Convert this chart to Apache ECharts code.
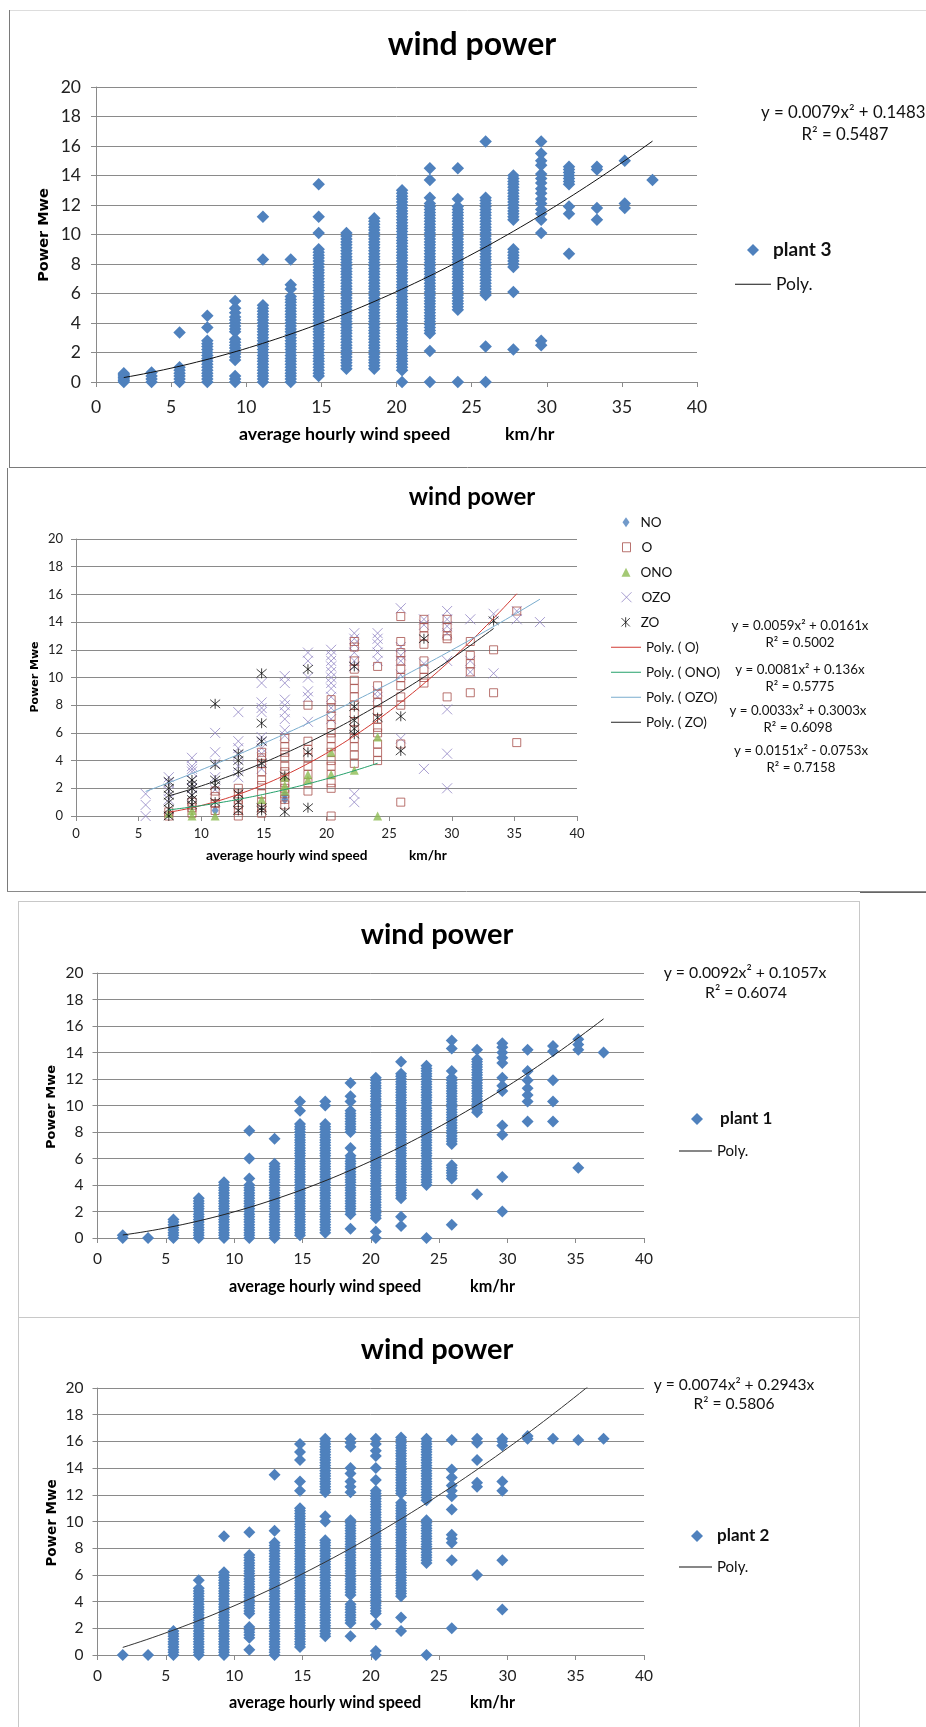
<!DOCTYPE html>
<html>
<head>
<meta charset="utf-8">
<script src="https://cdn.jsdelivr.net/npm/echarts@6/dist/echarts.min.js"></script>
<style>
  html, body { margin: 0; padding: 0; background: #ffffff; }
  #chart { width: 926px; height: 1727px; }
</style>
</head>
<body>
<div id="chart"></div>
<script>
// Wind speed classes (km/h), one column of readings per class
const speeds = [1.85, 3.70, 5.56, 7.41, 9.26, 11.11, 12.96, 14.82, 16.67, 18.52,
                20.37, 22.22, 24.08, 25.93, 27.78, 29.63, 31.48, 33.34, 35.19, 37.04];

// Axis ranges: [min, max, step]
const xRange = [0, 40, 5];
const yRange = [0, 20, 2];

// Plant 3: hourly power readings (MWe) per speed column
const plant3 = [
  [0, 0.1, 0.2, 0.3, 0.4, 0.5, 0.6],
  [0, 0.2, 0.4, 0.65],
  [0, 0.2, 0.4, 0.6, 0.8, 1, 3.35],
  [0, 0.2, 0.4, 0.6, 0.8, 1, 1.2, 1.4, 1.6, 1.8, 2, 2.2, 2.4, 2.6, 2.8, 3.7, 4.5],
  [0, 0.2, 0.4, 1.5, 1.7, 1.9, 2.1, 2.3, 2.5, 2.7, 2.9, 3.4, 3.6, 3.8, 4, 4.2, 4.4, 4.7, 5, 5.5],
  [0, 0.2, 0.4, 0.6, 0.8, 1, 1.2, 1.4, 1.6, 1.8, 2, 2.2, 2.4, 2.6, 2.8, 3, 3.2, 3.4, 3.6, 3.8, 4, 4.2, 4.4, 4.6, 4.8, 5, 5.2, 8.3, 11.2],
  [0, 0.2, 0.4, 0.6, 0.8, 1, 1.2, 1.4, 1.6, 1.8, 2, 2.2, 2.4, 2.6, 2.8, 3, 3.2, 3.4, 3.6, 3.8, 4, 4.2, 4.4, 4.6, 4.8, 5, 5.2, 5.4, 5.6, 5.8, 6.3, 6.6, 8.3],
  [0.4, 0.6, 0.8, 1, 1.2, 1.4, 1.6, 1.8, 2, 2.2, 2.4, 2.6, 2.8, 3, 3.2, 3.4, 3.6, 3.8, 4, 4.2, 4.4, 4.6, 4.8, 5, 5.2, 5.4, 5.6, 5.8, 6, 6.2, 6.4, 6.6, 6.8, 7, 7.2, 7.4, 7.6, 7.8, 8, 8.2, 8.4, 8.6, 8.8, 9, 10.1, 11.2, 13.4],
  [0.9, 1.1, 1.3, 1.5, 1.7, 1.9, 2.1, 2.3, 2.5, 2.7, 2.9, 3.1, 3.3, 3.5, 3.7, 3.9, 4.1, 4.3, 4.5, 4.7, 4.9, 5.1, 5.3, 5.5, 5.7, 5.9, 6.1, 6.3, 6.5, 6.7, 6.9, 7.1, 7.3, 7.5, 7.7, 7.9, 8.1, 8.3, 8.5, 8.7, 8.9, 9.1, 9.3, 9.5, 9.7, 9.9, 10.1],
  [0.9, 1.1, 1.3, 1.5, 1.7, 1.9, 2.1, 2.3, 2.5, 2.7, 2.9, 3.1, 3.3, 3.5, 3.7, 3.9, 4.1, 4.3, 4.5, 4.7, 4.9, 5.1, 5.3, 5.5, 5.7, 5.9, 6.1, 6.3, 6.5, 6.7, 6.9, 7.1, 7.3, 7.5, 7.7, 7.9, 8.1, 8.3, 8.5, 8.7, 8.9, 9.1, 9.3, 9.5, 9.7, 9.9, 10.1, 10.3, 10.5, 10.7, 10.9, 11.1],
  [0, 0.8, 1, 1.2, 1.4, 1.6, 1.8, 2, 2.2, 2.4, 2.6, 2.8, 3, 3.2, 3.4, 3.6, 3.8, 4, 4.2, 4.4, 4.6, 4.8, 5, 5.2, 5.4, 5.6, 5.8, 6, 6.2, 6.4, 6.6, 6.8, 7, 7.2, 7.4, 7.6, 7.8, 8, 8.2, 8.4, 8.6, 8.8, 9, 9.2, 9.4, 9.6, 9.8, 10, 10.2, 10.4, 10.6, 10.8, 11, 11.2, 11.4, 11.6, 11.8, 12, 12.2, 12.4, 12.6, 12.8, 13],
  [0, 2.1, 3.3, 3.5, 3.7, 3.9, 4.1, 4.3, 4.5, 4.7, 4.9, 5.1, 5.3, 5.5, 5.7, 5.9, 6.1, 6.3, 6.5, 6.7, 6.9, 7.1, 7.3, 7.5, 7.7, 7.9, 8.1, 8.3, 8.5, 8.7, 8.9, 9.1, 9.3, 9.5, 9.7, 9.9, 10.1, 10.3, 10.5, 10.7, 10.9, 11.1, 11.3, 11.5, 11.7, 11.9, 12.1, 12.5, 13.7, 14.5],
  [0, 4.9, 5.1, 5.3, 5.5, 5.7, 5.9, 6.1, 6.3, 6.5, 6.7, 6.9, 7.1, 7.3, 7.5, 7.7, 7.9, 8.1, 8.3, 8.5, 8.7, 8.9, 9.1, 9.3, 9.5, 9.7, 9.9, 10.1, 10.3, 10.5, 10.7, 10.9, 11.1, 11.3, 11.5, 11.7, 11.9, 12.4, 14.5],
  [0, 2.4, 5.9, 6.1, 6.3, 6.5, 6.7, 6.9, 7.1, 7.3, 7.5, 7.7, 7.9, 8.1, 8.3, 8.5, 8.7, 8.9, 9.1, 9.3, 9.5, 9.7, 9.9, 10.1, 10.3, 10.5, 10.7, 10.9, 11.1, 11.3, 11.5, 11.7, 11.9, 12.1, 12.3, 12.5, 16.3],
  [2.2, 6.1, 7.8, 8, 8.2, 8.4, 8.6, 8.8, 9, 11, 11.2, 11.4, 11.6, 11.8, 12, 12.2, 12.4, 12.6, 12.8, 13, 13.2, 13.4, 13.6, 13.8, 14],
  [2.5, 2.8, 10.1, 11, 11.4, 11.7, 12.1, 12.4, 12.8, 13.1, 13.5, 13.8, 14.1, 14.7, 15, 15.5, 16.3],
  [8.7, 11.4, 11.9, 13.4, 13.6, 13.8, 14, 14.2, 14.4, 14.6],
  [11, 11.8, 14.4, 14.6],
  [11.8, 12.1, 15],
  [13.7]
];

// Plant 1
const plant1 = [
  [0, 0.2],
  [0],
  [0, 0.2, 0.4, 0.6, 0.8, 1, 1.2, 1.4],
  [0, 0.2, 0.4, 0.6, 0.8, 1, 1.2, 1.4, 1.6, 1.8, 2, 2.2, 2.4, 2.6, 2.8, 3],
  [0, 0.2, 0.4, 0.6, 0.8, 1, 1.2, 1.4, 1.6, 1.8, 2, 2.2, 2.4, 2.6, 2.8, 3, 3.2, 3.4, 3.6, 3.8, 4, 4.2],
  [0, 0.2, 0.4, 0.6, 0.8, 1, 1.2, 1.4, 1.6, 1.8, 2, 2.2, 2.4, 2.6, 2.8, 3, 3.2, 3.4, 3.6, 3.8, 4, 4.5, 6, 8.1],
  [0, 0.2, 0.4, 0.6, 0.8, 1, 1.2, 1.4, 1.6, 1.8, 2, 2.2, 2.4, 2.6, 2.8, 3, 3.2, 3.4, 3.6, 3.8, 4, 4.2, 4.4, 4.6, 4.8, 5, 5.2, 5.4, 5.6, 7.5],
  [0.2, 0.4, 0.6, 0.8, 1, 1.2, 1.4, 1.6, 1.8, 2, 2.2, 2.4, 2.6, 2.8, 3, 3.2, 3.4, 3.6, 3.8, 4, 4.2, 4.4, 4.6, 4.8, 5, 5.2, 5.4, 5.6, 5.8, 6, 6.2, 6.4, 6.6, 6.8, 7, 7.2, 7.4, 7.6, 7.8, 8, 8.2, 8.4, 8.6, 9.6, 10.3],
  [0.4, 0.6, 0.8, 1, 1.2, 1.4, 1.6, 1.8, 2, 2.2, 2.4, 2.6, 2.8, 3, 3.2, 3.4, 3.6, 3.8, 4, 4.2, 4.4, 4.6, 4.8, 5, 5.2, 5.4, 5.6, 5.8, 6, 6.2, 6.4, 6.6, 6.8, 7, 7.2, 7.4, 7.6, 7.8, 8, 8.2, 8.4, 8.6, 10, 10.3],
  [0.7, 1.8, 2, 2.2, 2.4, 2.6, 2.8, 3, 3.2, 3.4, 3.6, 3.8, 4, 4.2, 4.4, 4.6, 4.8, 5, 5.2, 5.4, 5.6, 5.8, 6, 6.2, 6.8, 8, 8.2, 8.4, 8.6, 8.8, 9, 9.2, 9.4, 9.6, 10.3, 10.7, 11.7],
  [0, 0.5, 1.5, 1.7, 1.9, 2.1, 2.3, 2.5, 2.7, 2.9, 3.1, 3.3, 3.5, 3.7, 3.9, 4.1, 4.3, 4.5, 4.7, 4.9, 5.1, 5.3, 5.5, 5.7, 5.9, 6.1, 6.3, 6.5, 6.7, 6.9, 7.1, 7.3, 7.5, 7.7, 7.9, 8.1, 8.3, 8.5, 8.7, 8.9, 9.1, 9.3, 9.5, 9.7, 9.9, 10.1, 10.3, 10.5, 10.7, 10.9, 11.1, 11.3, 11.5, 11.7, 11.9, 12.1],
  [0.9, 1.6, 3, 3.2, 3.4, 3.6, 3.8, 4, 4.2, 4.4, 4.6, 4.8, 5, 5.2, 5.4, 5.6, 5.8, 6, 6.2, 6.4, 6.6, 6.8, 7, 7.2, 7.4, 7.6, 7.8, 8, 8.2, 8.4, 8.6, 8.8, 9, 9.2, 9.4, 9.6, 9.8, 10, 10.2, 10.4, 10.6, 10.8, 11, 11.2, 11.4, 11.6, 11.8, 12, 12.2, 12.4, 13.3],
  [0, 4, 4.2, 4.4, 4.6, 4.8, 5, 5.2, 5.4, 5.6, 5.8, 6, 6.2, 6.4, 6.6, 6.8, 7, 7.2, 7.4, 7.6, 7.8, 8, 8.2, 8.4, 8.6, 8.8, 9, 9.2, 9.4, 9.6, 9.8, 10, 10.2, 10.4, 10.6, 10.8, 11, 11.2, 11.4, 11.6, 11.8, 12, 12.2, 12.4, 12.6, 12.8, 13],
  [1, 4.5, 4.7, 4.9, 5.1, 5.3, 5.5, 7.1, 7.3, 7.5, 7.7, 7.9, 8.1, 8.3, 8.5, 8.7, 8.9, 9.1, 9.3, 9.5, 9.7, 9.9, 10.1, 10.3, 10.5, 10.7, 10.9, 11.1, 11.3, 11.5, 11.7, 11.9, 12.1, 12.6, 14.3, 14.9],
  [3.3, 9.5, 9.7, 9.9, 10.1, 10.3, 10.5, 10.7, 10.9, 11.1, 11.3, 11.5, 11.7, 11.9, 12.1, 12.3, 12.5, 12.7, 12.9, 13.1, 13.3, 13.5, 14.2],
  [2, 4.6, 7.8, 8.5, 11.1, 11.5, 12.1, 13.2, 13.6, 14, 14.4, 14.7],
  [8.8, 10.3, 10.8, 11.3, 11.9, 12.6, 14.2],
  [8.8, 10.3, 11.9, 14.1, 14.5],
  [5.3, 14.2, 14.6, 15],
  [14]
];

// Plant 2
const plant2 = [
  [0],
  [0],
  [0, 0.2, 0.4, 0.6, 0.8, 1, 1.2, 1.4, 1.6, 1.8],
  [0, 0.2, 0.4, 0.6, 0.8, 1, 1.2, 1.4, 1.6, 1.8, 2, 2.2, 2.4, 2.6, 2.8, 3, 3.2, 3.4, 3.6, 3.8, 4, 4.2, 4.4, 4.6, 4.8, 5, 5.6],
  [0, 0.2, 0.4, 0.6, 0.8, 1, 1.2, 1.4, 1.6, 1.8, 2, 2.2, 2.4, 2.6, 2.8, 3, 3.2, 3.4, 3.6, 3.8, 4, 4.2, 4.4, 4.6, 4.8, 5, 5.2, 5.4, 5.6, 5.8, 6, 6.2, 8.9],
  [0.4, 1.3, 1.5, 1.7, 1.9, 2.1, 3.1, 3.3, 3.5, 3.7, 3.9, 4.1, 4.3, 4.5, 4.7, 4.9, 5.1, 5.3, 5.5, 5.7, 5.9, 6.1, 6.3, 6.5, 6.7, 6.9, 7.1, 7.3, 7.5, 9.2],
  [0, 0.2, 0.4, 0.6, 0.8, 1, 1.2, 1.4, 1.6, 1.8, 2, 2.2, 2.4, 2.6, 2.8, 3, 3.2, 3.4, 3.6, 3.8, 4, 4.2, 4.4, 4.6, 4.8, 5, 5.2, 5.4, 5.6, 5.8, 6, 6.2, 6.4, 6.6, 6.8, 7, 7.2, 7.4, 7.6, 7.8, 8, 8.2, 8.4, 9.3, 13.5],
  [0.6, 0.8, 1, 1.2, 1.4, 1.6, 1.8, 2, 2.2, 2.4, 2.6, 2.8, 3, 3.2, 3.4, 3.6, 3.8, 4, 4.2, 4.4, 4.6, 4.8, 5, 5.2, 5.4, 5.6, 5.8, 6, 6.2, 6.4, 6.6, 6.8, 7, 7.2, 7.4, 7.6, 7.8, 8, 8.2, 8.4, 8.6, 8.8, 9, 9.2, 9.4, 9.6, 9.8, 10, 10.2, 10.4, 10.6, 10.8, 11, 12.3, 13, 14.6, 15.2, 15.8],
  [1.4, 1.6, 1.8, 2, 2.2, 2.4, 2.6, 2.8, 3, 3.2, 3.4, 3.6, 3.8, 4, 4.2, 4.4, 4.6, 4.8, 5, 5.2, 5.4, 5.6, 5.8, 6, 6.2, 6.4, 6.6, 6.8, 7, 7.2, 7.4, 7.6, 7.8, 8, 8.2, 8.4, 8.6, 10, 10.4, 12.2, 12.4, 12.6, 12.8, 13, 13.2, 13.4, 13.6, 13.8, 14, 14.2, 14.4, 14.6, 14.8, 15, 15.2, 15.4, 15.6, 15.8, 16, 16.2],
  [1.4, 2.4, 2.6, 2.8, 3, 3.2, 3.4, 3.6, 3.8, 4.5, 4.7, 4.9, 5.1, 5.3, 5.5, 5.7, 5.9, 6.1, 6.3, 6.5, 6.7, 6.9, 7.1, 7.3, 7.5, 7.7, 7.9, 8.1, 8.3, 8.5, 8.7, 8.9, 9.1, 9.3, 9.5, 9.7, 9.9, 10.1, 12.2, 12.6, 13, 13.6, 14, 15.6, 15.9, 16.2],
  [0, 0.3, 2.3, 3.1, 3.3, 3.5, 3.7, 3.9, 4.1, 4.3, 4.5, 4.7, 4.9, 5.1, 5.3, 5.5, 5.7, 5.9, 6.1, 6.3, 6.5, 6.7, 6.9, 7.1, 7.3, 7.5, 7.7, 7.9, 8.1, 8.3, 8.5, 8.7, 8.9, 9.1, 9.3, 9.5, 9.7, 9.9, 10.1, 10.3, 10.5, 10.7, 10.9, 11.1, 11.3, 11.5, 11.7, 11.9, 12.1, 12.3, 13.1, 14, 14.9, 15.3, 15.8, 16.2],
  [1.8, 2.8, 4.4, 4.6, 4.8, 5, 5.2, 5.4, 5.6, 5.8, 6, 6.2, 6.4, 6.6, 6.8, 7, 7.2, 7.4, 7.6, 7.8, 8, 8.2, 8.4, 8.6, 8.8, 9, 9.2, 9.4, 9.6, 9.8, 10, 10.2, 10.4, 10.6, 10.8, 11, 11.2, 11.4, 12.1, 12.3, 12.5, 12.7, 12.9, 13.1, 13.3, 13.5, 13.7, 13.9, 14.1, 14.3, 14.5, 14.7, 14.9, 15.1, 15.3, 15.5, 15.7, 15.9, 16.1, 16.3],
  [0, 6.9, 7.1, 7.3, 7.5, 7.7, 7.9, 8.1, 8.3, 8.5, 8.7, 8.9, 9.1, 9.3, 9.5, 9.7, 9.9, 10.1, 11.6, 11.8, 12, 12.2, 12.4, 12.6, 12.8, 13, 13.2, 13.4, 13.6, 13.8, 14, 14.2, 14.4, 14.6, 14.8, 15, 15.2, 15.4, 15.6, 15.8, 16, 16.2],
  [2, 7.1, 8.4, 8.7, 9, 10.9, 11.9, 12.3, 12.7, 13.3, 13.9, 16.1],
  [6, 12.6, 12.9, 14.6, 15.9, 16.2],
  [3.4, 7.1, 12.3, 13, 15.7, 16, 16.2],
  [16.2, 16.4],
  [16.2],
  [16.1],
  [16.2]
];

// Operating modes (combined plants)
const modeNO = [[], [], [], [], [], [0.4], [], [], [1.2, 1.5], [], [], [], [], [], [], [], [], [], [], []];
const modeO = [
  [], [], [], [0, 0.3], [0.2, 0.6, 1.0], [0.4, 0.9, 1.4, 1.8], [0, 0.4, 0.8, 1.2, 1.6, 2.0],
  [0.2, 0.6, 1.0, 1.6, 2.2, 2.6, 3.2, 3.8, 4.2, 4.6],
  [0.8, 1.2, 1.6, 2.0, 2.4, 2.8, 3.2, 3.6, 4.2, 4.6, 5.0, 5.6],
  [1.8, 2.4, 3.0, 3.6, 4.2, 4.8, 5.4, 8.0],
  [0, 2.0, 2.4, 3.0, 3.6, 4.0, 4.6, 5.0, 5.6, 6.0, 6.6, 7.2, 7.8, 8.4],
  [3.8, 4.4, 5.0, 5.6, 6.2, 6.8, 7.4, 8.0, 8.6, 9.2, 9.8, 10.6, 11.2, 12.2, 12.6],
  [4.0, 4.6, 5.2, 6.0, 6.4, 7.0, 7.6, 8.2, 8.8, 9.4, 10.8],
  [1.0, 5.2, 8.0, 8.6, 9.4, 10.0, 10.6, 11.2, 11.8, 12.6, 14.4],
  [9.6, 10.0, 10.6, 11.2, 12.4, 13.0, 13.6, 14.2],
  [8.6, 12.8, 13.0, 13.6, 14.2],
  [8.9, 10.4, 11.0, 11.6, 12.6],
  [8.9, 12.0],
  [5.3, 14.8],
  []
];
const modeONO = [[], [], [], [0.2], [0, 0.4], [0], [], [1.2], [1.8, 2.2, 2.8], [2.6, 3.0], [3.0, 4.6], [3.3], [0, 5.7], [], [], [], [], [], [], []];
const modeOZO = [
  [], [], [0, 0.8, 1.6], [1.2, 1.8, 2.4, 2.8], [1.5, 2.0, 2.6, 3.2, 3.4, 3.6, 4.2],
  [1.9, 2.8, 3.8, 4.6, 6.0], [2.8, 3.6, 4.4, 4.9, 5.4, 7.5],
  [3.4, 4.5, 4.9, 5.4, 5.7, 7.5, 7.8, 8.2, 9.6],
  [5.8, 6.2, 7.0, 7.5, 8.0, 8.4, 9.6, 10.1],
  [6.8, 8.6, 9.0, 10.0, 11.2, 11.8],
  [7.0, 7.8, 8.6, 9.2, 9.6, 10.0, 10.4, 10.8, 11.2, 11.6, 12.0],
  [1.0, 1.6, 10.8, 11.2, 11.8, 12.4, 12.8, 13.2],
  [8.6, 9.0, 11.2, 11.8, 12.4, 12.8, 13.2],
  [5.6, 10.2, 11.2, 11.6, 12.2, 15.0],
  [3.4, 11.0, 13.8, 14.2],
  [2.0, 4.5, 7.7, 11.2, 13.2, 13.7, 14.2, 14.8],
  [10.4, 11.2, 14.2],
  [10.3, 14.6],
  [14.2, 14.8],
  [14.0]
];
const modeZO = [
  [], [], [], [0, 0.5, 1.0, 1.5, 2.0, 2.5], [0.8, 1.2, 1.5, 2.0, 2.3, 2.6],
  [1.0, 2.2, 2.6, 3.7, 8.1], [0.4, 1.0, 1.6, 3.2, 4.0, 4.5], [0.4, 0.6, 3.8, 5.4, 6.7, 10.3],
  [0.3, 2.9], [0.6, 4.6, 10.6], [], [5.9, 6.3, 6.9, 7.9, 10.8], [7.1], [4.7, 7.2], [12.8],
  [], [], [14.1], [], []
];

// Polynomial trend lines y = a*x^2 + b*x, with their fitted speed span
const fit3 = [0.0079, 0.1483], fit1 = [0.0092, 0.1057], fit2 = [0.0074, 0.2943];
const fitO = [0.0151, -0.0753], fitONO = [0.0059, 0.0161], fitOZO = [0.0033, 0.3003], fitZO = [0.0081, 0.136];
const spanPlant = [1.85, 37.04];
const spanO = [7.41, 35.19], spanONO = [7.41, 24.08], spanOZO = [5.56, 37.04], spanZO = [7.41, 33.34];

// Equation labels
const eqPlant3 = ['y = 0.0079x\u00B2 + 0.1483', 'R\u00B2 = 0.5487'];
const eqModes = [
  ['y = 0.0059x\u00B2 + 0.0161x', 'R\u00B2 = 0.5002'],
  ['y = 0.0081x\u00B2 + 0.136x', 'R\u00B2 = 0.5775'],
  ['y = 0.0033x\u00B2 + 0.3003x', 'R\u00B2 = 0.6098'],
  ['y = 0.0151x\u00B2 - 0.0753x', 'R\u00B2 = 0.7158']
];
const eqPlant1 = ['y = 0.0092x\u00B2 + 0.1057x', 'R\u00B2 = 0.6074'];
const eqPlant2 = ['y = 0.0074x\u00B2 + 0.2943x', 'R\u00B2 = 0.5806'];

const titleText = 'wind power';
const yName = 'Power Mwe';
const xName = 'average hourly wind speed';
const xUnit = 'km/hr';

// ---------- helpers ----------
function points(cols) {
  const out = [];
  cols.forEach((ys, i) => ys.forEach(y => out.push([speeds[i], y])));
  return out;
}
// sample the fitted polynomial across its span
function trend(coef, span) {
  const out = [], n = 80;
  for (let k = 0; k <= n; k++) {
    const x = span[0] + (span[1] - span[0]) * k / n;
    out.push([x, coef[0] * x * x + coef[1] * x]);
  }
  return out;
}

const FONT = 'Lato, "Open Sans", sans-serif';
const GRID_COL = '#8a8a8a';
const BLUE = '#4F81BD';

const grids = [
  { left: 96, top: 87, width: 601, height: 295 },
  { left: 76, top: 539, width: 501, height: 277 },
  { left: 97.5, top: 973, width: 546.5, height: 265 },
  { left: 97.5, top: 1388, width: 546.5, height: 267 }
];
const tickFont = [17.5, 13, 15.5, 15.5];
const xLabelMargin = [16, 11, 13, 13];
const yLabelMargin = [15, 13, 14, 14];

const xAxes = grids.map((g, i) => ({
  type: 'value', gridIndex: i, min: xRange[0], max: xRange[1], interval: xRange[2],
  axisLine: { show: true, onZero: false, lineStyle: { color: GRID_COL, width: 1 } },
  axisTick: { show: true, length: 5, lineStyle: { color: GRID_COL } },
  axisLabel: { fontFamily: FONT, fontSize: tickFont[i], color: '#222', margin: xLabelMargin[i] },
  splitLine: { show: false }
}));
const yAxes = grids.map((g, i) => ({
  type: 'value', gridIndex: i, min: yRange[0], max: yRange[1], interval: yRange[2],
  axisLine: { show: true, onZero: false, lineStyle: { color: GRID_COL, width: 1 } },
  axisTick: { show: true, length: 5, lineStyle: { color: GRID_COL } },
  axisLabel: { fontFamily: FONT, fontSize: tickFont[i], color: '#222', margin: yLabelMargin[i] },
  splitLine: { show: true, lineStyle: { color: GRID_COL, width: 1 } }
}));

function plantScatter(name, cols, gi, size) {
  return {
    type: 'scatter', name, xAxisIndex: gi, yAxisIndex: gi, data: points(cols),
    symbol: 'diamond', symbolSize: size, itemStyle: { color: BLUE, opacity: 1 }, z: 2, silent: true
  };
}
function trendLine(name, coef, span, gi, color, width) {
  return {
    type: 'line', name, xAxisIndex: gi, yAxisIndex: gi, data: trend(coef, span),
    symbol: 'none', showSymbol: false, clip: true, smooth: false,
    lineStyle: { color, width }, itemStyle: { color }, z: 5, silent: true
  };
}

const X_PATH = 'path://M0,0L10,10M10,0L0,10';
const STAR_PATH = 'path://M0,0L10,10M10,0L0,10M5,-1L5,11';
const COL_O = '#A8504C', COL_ONO = '#8DBB52', COL_OZO = '#9184C4', COL_ZO = '#111111';
const CLEAR = 'rgba(255,255,255,0)';

const series = [
  plantScatter('plant 3', plant3, 0, 12.5),
  trendLine('Poly.', fit3, spanPlant, 0, '#111', 1),

  { type: 'scatter', name: 'NO', xAxisIndex: 1, yAxisIndex: 1, data: points(modeNO),
    symbol: 'diamond', symbolSize: [7, 10], itemStyle: { color: BLUE }, z: 2, silent: true },
  { type: 'scatter', name: 'O', xAxisIndex: 1, yAxisIndex: 1, data: points(modeO),
    symbol: 'rect', symbolSize: 8, itemStyle: { color: CLEAR, borderColor: COL_O, borderWidth: 1 }, z: 3, silent: true },
  { type: 'scatter', name: 'ONO', xAxisIndex: 1, yAxisIndex: 1, data: points(modeONO),
    symbol: 'triangle', symbolSize: 9, itemStyle: { color: COL_ONO }, z: 3, silent: true },
  { type: 'scatter', name: 'OZO', xAxisIndex: 1, yAxisIndex: 1, data: points(modeOZO),
    symbol: X_PATH, symbolSize: 10, itemStyle: { color: CLEAR, borderColor: COL_OZO, borderWidth: 1 }, z: 2, silent: true },
  { type: 'scatter', name: 'ZO', xAxisIndex: 1, yAxisIndex: 1, data: points(modeZO),
    symbol: STAR_PATH, symbolSize: 10, itemStyle: { color: CLEAR, borderColor: COL_ZO, borderWidth: 1 }, z: 4, silent: true },
  trendLine('Poly. ( O)', fitO, spanO, 1, '#D23A33', 1),
  trendLine('Poly. ( ONO)', fitONO, spanONO, 1, '#23A06A', 1),
  trendLine('Poly. ( OZO)', fitOZO, spanOZO, 1, '#7AADCE', 1),
  trendLine('Poly. ( ZO)', fitZO, spanZO, 1, '#222', 1),

  plantScatter('plant 1', plant1, 2, 12),
  trendLine('Poly.', fit1, spanPlant, 2, '#222', 1),

  plantScatter('plant 2', plant2, 3, 12),
  trendLine('Poly.', fit2, spanPlant, 3, '#333', 1)
];

// One legend block per entry so each sits exactly where it belongs
function leg(name, left, cy, iw, ih, fs, opts) {
  opts = opts || {};
  const h = Math.max(ih, fs);
  return {
    left, top: cy - h / 2, padding: 0, orient: 'vertical', selectedMode: false,
    itemWidth: iw, itemHeight: ih,
    data: [Object.assign({ name }, opts.item || {})],
    textStyle: Object.assign({ fontFamily: FONT, fontSize: fs, color: '#111',
      fontWeight: opts.bold ? 'bold' : 'normal' }, opts.text || {})
  };
}
const lineIcon = { item: { icon: 'rect' } };
const modeRows = [522, 547, 572, 597, 622, 647, 672, 697, 722];
const legends = [
  leg('plant 3', 747, 250, 12, 12, 19, { bold: true, text: { padding: [0, 0, 0, 9] } }),
  leg('Poly.', 735, 284, 36, 1, 17.5, lineIcon),
  leg('NO', 622.5, modeRows[0], 7, 10, 13.5, { text: { padding: [0, 0, 0, 6] } }),
  leg('O', 622, modeRows[1], 8, 9, 13.5,
      { item: { itemStyle: { color: CLEAR, borderColor: COL_O, borderWidth: 1 } }, text: { padding: [0, 0, 0, 6] } }),
  leg('ONO', 621.5, modeRows[2], 9, 9, 13.5, { text: { padding: [0, 0, 0, 5] } }),
  leg('OZO', 621, modeRows[3], 10, 10, 13.5,
      { item: { itemStyle: { color: CLEAR, borderColor: COL_OZO, borderWidth: 1 } }, text: { padding: [0, 0, 0, 5] } }),
  leg('ZO', 621, modeRows[4], 10, 10, 13.5,
      { item: { itemStyle: { color: CLEAR, borderColor: COL_ZO, borderWidth: 1 } }, text: { padding: [0, 0, 0, 5] } }),
  leg('Poly. ( O)', 611, modeRows[5], 30, 1, 13.5, lineIcon),
  leg('Poly. ( ONO)', 611, modeRows[6], 30, 1, 13.5, lineIcon),
  leg('Poly. ( OZO)', 611, modeRows[7], 30, 1, 13.5, lineIcon),
  leg('Poly. ( ZO)', 611, modeRows[8], 30, 1, 13.5, lineIcon),
  leg('plant 1', 691, 1119, 12, 12, 17, { bold: true, text: { padding: [0, 0, 0, 12] } }),
  leg('Poly.', 679, 1151, 33, 1, 15, lineIcon),
  leg('plant 2', 691, 1536, 12, 12, 17, { bold: true, text: { padding: [0, 0, 0, 9] } }),
  leg('Poly.', 679, 1567, 33, 1, 15, lineIcon)
];

const titles = [
  { x: 472, y: 45, size: 32 },
  { x: 472, y: 497, size: 24 },
  { x: 437, y: 935, size: 29 },
  { x: 437, y: 1350, size: 29 }
].map(t => ({
  text: titleText, left: t.x, top: t.y, textAlign: 'center', textVerticalAlign: 'middle', padding: 0,
  textStyle: { fontFamily: FONT, fontWeight: 'bold', fontSize: t.size, color: '#000' }
}));

// Free-standing texts: axis titles and trend equations
function txt(x, y, text, size, opts) {
  opts = opts || {};
  return {
    type: 'text', x, y, rotation: opts.rot || 0, silent: true, z: 10,
    style: {
      text, fill: opts.color || '#111',
      font: (opts.bold ? 'bold ' : '') + size + 'px ' + (opts.family || FONT),
      align: opts.align || 'left', verticalAlign: 'middle'
    }
  };
}
function hline(x1, x2, y, color) {
  return { type: 'line', silent: true, z: 0, shape: { x1, y1: y, x2, y2: y }, style: { stroke: color, lineWidth: 1 } };
}
function vline(x, y1, y2, color) {
  return { type: 'line', silent: true, z: 0, shape: { x1: x, y1, x2: x, y2 }, style: { stroke: color, lineWidth: 1 } };
}
const YFONT = '"DejaVu Sans", Verdana, sans-serif';
const up = Math.PI / 2;
const graphics = [
  // frames
  hline(9, 926, 10.5, '#dddddd'),
  vline(9.5, 10, 468, '#7a7a7a'),
  hline(9, 926, 467.5, '#7a7a7a'),
  vline(7.5, 468, 892, '#7a7a7a'),
  hline(7, 926, 891.5, '#8a8a8a'),
  hline(860, 926, 892.5, '#666666'),
  vline(18.5, 901, 1727, '#c8c8c8'),
  vline(859.5, 901, 1727, '#c8c8c8'),
  hline(18, 860, 901.5, '#c8c8c8'),
  hline(18, 860, 1317.5, '#c8c8c8'),

  // plant 3
  txt(44, 235, yName, 14.5, { bold: true, family: YFONT, rot: up, align: 'center', color: '#000' }),
  txt(239, 434, xName, 17.8, { bold: true, color: '#000' }),
  txt(505, 434, xUnit, 17.8, { bold: true, color: '#000' }),
  txt(761, 113, eqPlant3[0], 16.8),
  txt(845, 135, eqPlant3[1], 16.8, { align: 'center' }),

  // operating modes
  txt(35, 677, yName, 11, { bold: true, family: YFONT, rot: up, align: 'center', color: '#000' }),
  txt(206, 856, xName, 13.6, { bold: true, color: '#000' }),
  txt(409, 856, xUnit, 13.6, { bold: true, color: '#000' }),
  txt(800, 626, eqModes[0][0], 13.3, { align: 'center' }),
  txt(800, 643, eqModes[0][1], 13.3, { align: 'center' }),
  txt(800, 670, eqModes[1][0], 13.3, { align: 'center' }),
  txt(800, 687, eqModes[1][1], 13.3, { align: 'center' }),
  txt(798, 711, eqModes[2][0], 13.3, { align: 'center' }),
  txt(798, 728, eqModes[2][1], 13.3, { align: 'center' }),
  txt(801, 751, eqModes[3][0], 13.3, { align: 'center' }),
  txt(801, 768, eqModes[3][1], 13.3, { align: 'center' }),

  // plant 1
  txt(52, 1107, yName, 13, { bold: true, family: YFONT, rot: up, align: 'center', color: '#000' }),
  txt(229, 1287, xName, 16.2, { bold: true, color: '#000' }),
  txt(470, 1287, xUnit, 16.2, { bold: true, color: '#000' }),
  txt(745, 973, eqPlant1[0], 15.8, { align: 'center' }),
  txt(746, 993, eqPlant1[1], 15.8, { align: 'center' }),

  // plant 2
  txt(52, 1523, yName, 13.5, { bold: true, family: YFONT, rot: up, align: 'center', color: '#000' }),
  txt(229, 1703, xName, 16.2, { bold: true, color: '#000' }),
  txt(470, 1703, xUnit, 16.2, { bold: true, color: '#000' }),
  txt(734, 1385, eqPlant2[0], 15.6, { align: 'center' }),
  txt(734, 1404, eqPlant2[1], 15.6, { align: 'center' })
];

const chart = echarts.init(document.getElementById('chart'), null, { renderer: 'canvas' });
chart.setOption({
  backgroundColor: '#ffffff',
  animation: false,
  title: titles,
  legend: legends,
  grid: grids,
  xAxis: xAxes,
  yAxis: yAxes,
  series,
  graphic: graphics
});
</script>
</body>
</html>
